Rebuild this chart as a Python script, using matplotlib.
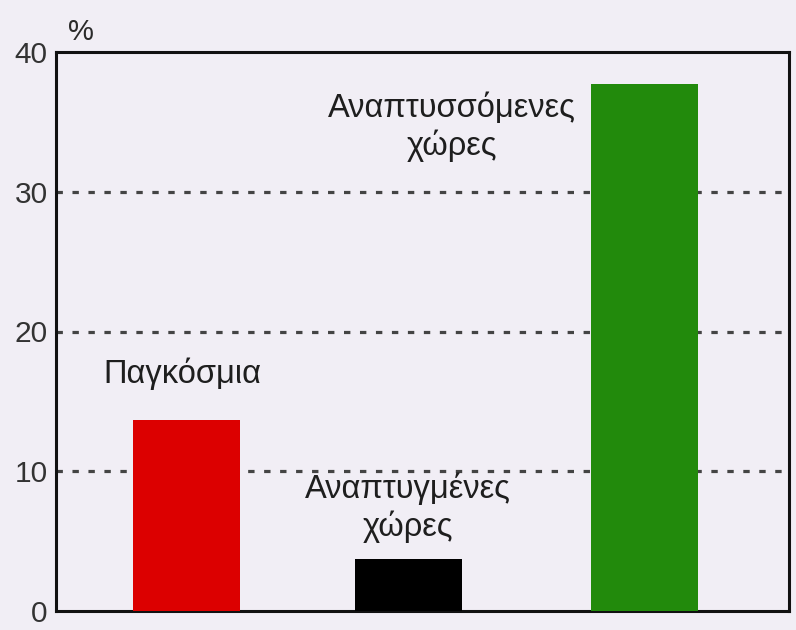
import matplotlib
matplotlib.use("Agg")
import matplotlib.pyplot as plt

# Share of values (%) by group
categories = ["Παγκόσμια", "Αναπτυγμένες\nχώρες", "Αναπτυσσόμενες\nχώρες"]
values = [13.7, 3.7, 37.7]
bar_colors = ["#dc0000", "#000000", "#228a0c"]
y_ticks = [0, 10, 20, 30, 40]
y_unit = "%"

# slot positions of the three bars along x
slots = [0.0, 1.0, 2.065]
bar_width = 0.483

# label anchor heights (data units) and x offsets relative to each bar
label_y = [17.0, 7.4, 34.6]
label_dx = [-0.02, -0.005, -0.87]

bg = "#f1eef5"
plt.rcParams["font.family"] = ["Liberation Sans", "DejaVu Sans"]

fig = plt.figure(figsize=(7.96, 6.30), dpi=100, facecolor=bg)
ax = fig.add_axes([56 / 796, 19 / 630, 733 / 796, 559 / 630])
ax.set_facecolor(bg)

ax.bar(slots, values, width=bar_width, color=bar_colors, zorder=3)

ax.set_xlim(-0.591, 2.717)
ax.set_ylim(0, 40)
ax.set_yticks(y_ticks)
ax.set_yticklabels([str(t) for t in y_ticks], fontsize=21.5, color="#333333")
ax.set_xticks([])
ax.tick_params(axis="y", length=0, pad=6)

for y in y_ticks[1:-1]:
    ax.axhline(y, color="#444444", linestyle=(0, (2.0, 3.0)), linewidth=2.3, zorder=1)

for s in ax.spines.values():
    s.set_color("#111111")
    s.set_linewidth(2.2)

for x, y, dx, lab in zip(slots, label_y, label_dx, categories):
    ax.text(x + dx, y, lab, ha="center", va="center", fontsize=23.5,
            color="#1e1e1e", linespacing=1.22, zorder=4)

fig.text(81 / 796, 1 - 32 / 630, y_unit, ha="center", va="center",
         fontsize=21, color="#2a2a2a")

fig.savefig("out.png", dpi=100, facecolor=bg)
